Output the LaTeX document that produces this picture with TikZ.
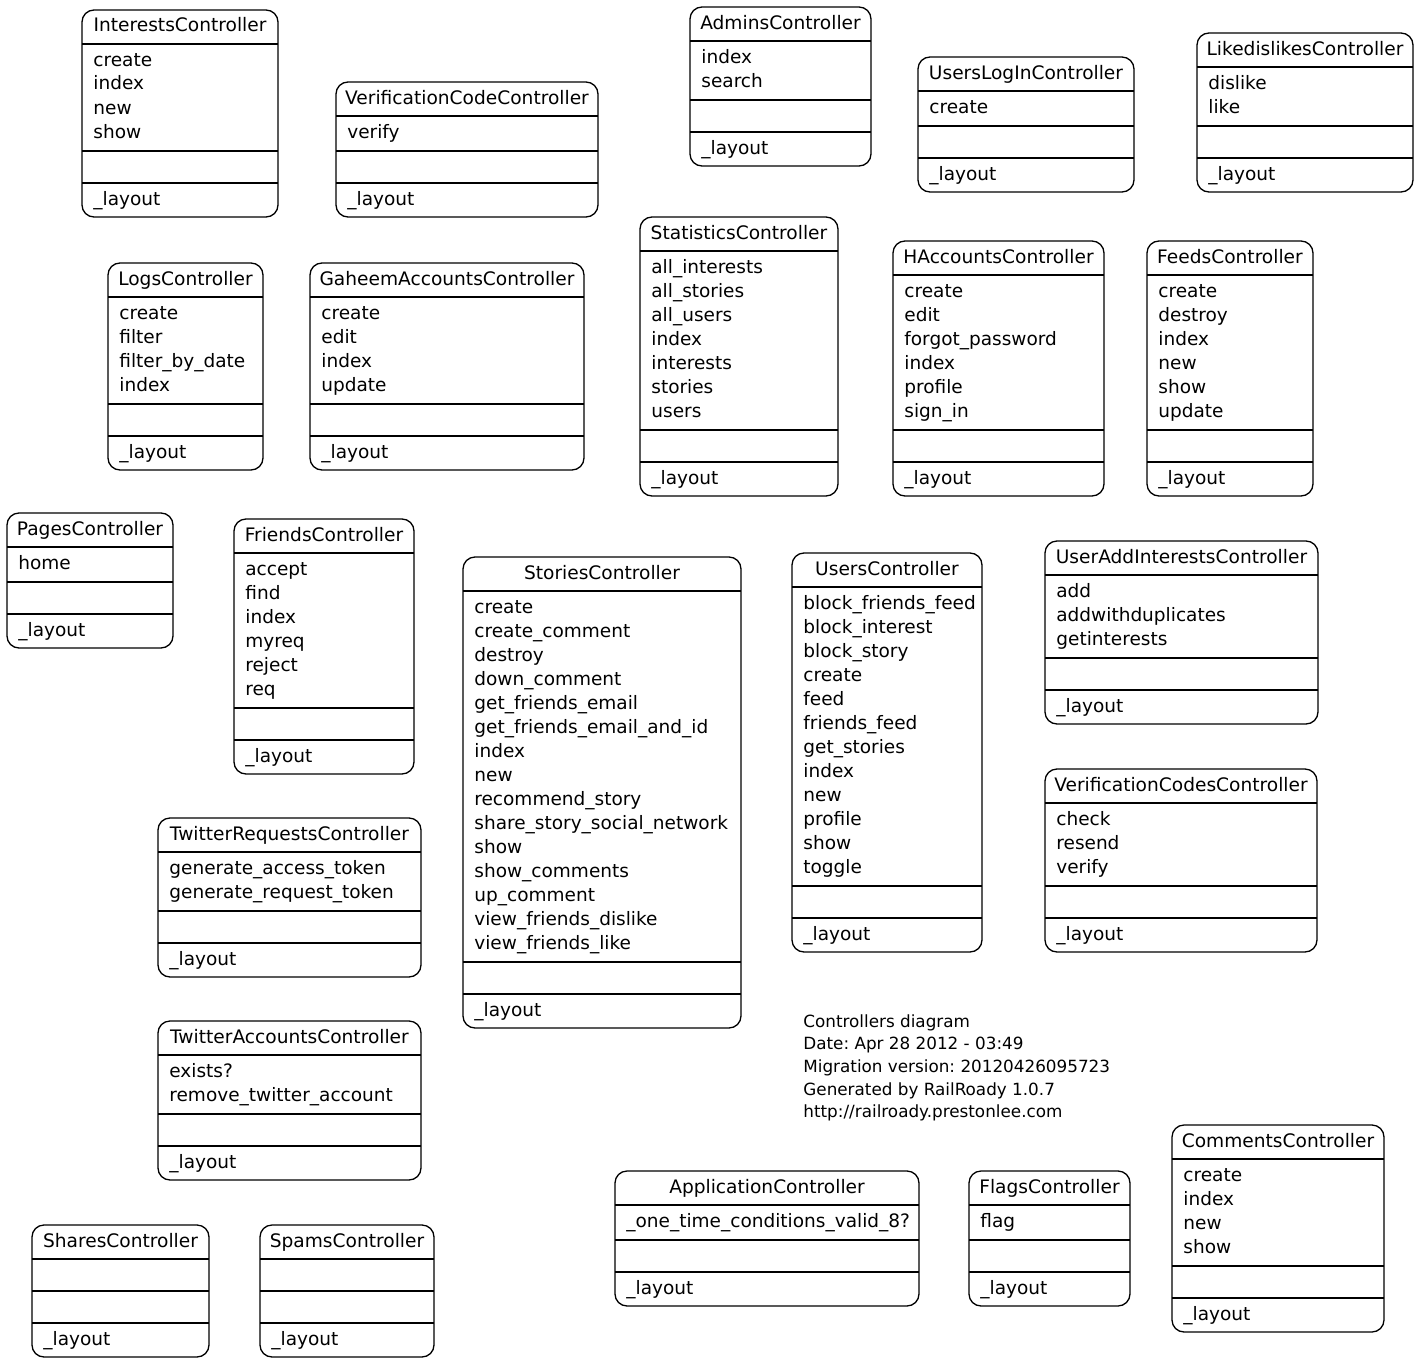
\documentclass[tikz,border=0pt]{standalone}
\usepackage{fontspec}
\setmainfont{DejaVu Sans}
\frenchspacing

\tikzset{
    ctrlframe/.style={line width=0.65pt, rounded corners=6pt},
    ctrlrule/.style={line width=0.65pt},
    ctrltitle/.style={anchor=base, inner sep=0pt, font=\fontsize{9.3}{12}\selectfont},
    ctrlmeth/.style={anchor=base west, inner sep=0pt, font=\fontsize{9.25}{12}\selectfont},
    foot/.style={anchor=base west, inner sep=0pt, font=\fontsize{8.4}{11.35}\selectfont}
}

% #1 name, #2 title, #3 left, #4 top, #5 width, #6 methods
\newcommand{\ctrlbox}[6]{%
    \pgfmathsetmacro\ctrlmid{#3+#5/2}
    \gdef\ctrlcount{0}
    \if\relax\detokenize{#6}\relax\else
        \foreach \m [count=\i] in {#6}
        {
            \node[ctrlmeth] (#1-m\i) at (#3+11, #4+56+24*\i-24) {\m};
            \xdef\ctrlcount{\i}
        }
    \fi
    \pgfmathsetmacro\ctrlya{#4+34}
    \pgfmathsetmacro\ctrlyb{\ctrlya+(\ctrlcount>0 ? 24*\ctrlcount+11 : 32)}
    \pgfmathsetmacro\ctrlyc{\ctrlyb+32}
    \pgfmathsetmacro\ctrlyd{\ctrlyc+34}
    \draw[ctrlframe] (#3,#4) rectangle (#3+#5,\ctrlyd);
    \draw[ctrlrule] (#3,\ctrlya) -- (#3+#5,\ctrlya);
    \draw[ctrlrule] (#3,\ctrlyb) -- (#3+#5,\ctrlyb);
    \draw[ctrlrule] (#3,\ctrlyc) -- (#3+#5,\ctrlyc);
    \node[ctrltitle] (#1) at (\ctrlmid, #4+22) {#2};
    \node[ctrlmeth] (#1-layout) at (#3+11, \ctrlyc+22) {\_layout};
}

\begin{document}
\begin{tikzpicture}[x=0.5pt, y=-0.5pt]
    \useasboundingbox (0,0) rectangle (1420,1365);

    % top rows
    \ctrlbox{interests}{InterestsController}{82}{10}{196}{create,index,new,show}
    \ctrlbox{verifcode}{VerificationCodeController}{336}{82}{262}{verify}
    \ctrlbox{admins}{AdminsController}{690}{7}{181}{index,search}
    \ctrlbox{userslogin}{UsersLogInController}{918}{57}{216}{create}
    \ctrlbox{likedislikes}{LikedislikesController}{1197}{33}{216}{dislike,like}
    \ctrlbox{logs}{LogsController}{108}{263}{155}{create,filter,filter\_by\_date,index}
    \ctrlbox{gaheem}{GaheemAccountsController}{310}{263}{274}{create,edit,index,update}
    \ctrlbox{statistics}{StatisticsController}{640}{217}{198}{all\_interests,all\_stories,all\_users,index,interests,stories,users}
    \ctrlbox{haccounts}{HAccountsController}{893}{241}{211}{create,edit,forgot\_password,index,profile,sign\_in}
    \ctrlbox{feeds}{FeedsController}{1147}{241}{166}{create,destroy,index,new,show,update}

    % middle
    \ctrlbox{pages}{PagesController}{7}{513}{166}{home}
    \ctrlbox{friends}{FriendsController}{234}{519}{180}{accept,find,index,myreq,reject,req}
    \ctrlbox{stories}{StoriesController}{463}{557}{278}{create,create\_comment,destroy,down\_comment,get\_friends\_email,get\_friends\_email\_and\_id,index,new,recommend\_story,share\_story\_social\_network,show,show\_comments,up\_comment,view\_friends\_dislike,view\_friends\_like}
    \ctrlbox{users}{UsersController}{792}{553}{190}{block\_friends\_feed,block\_interest,block\_story,create,feed,friends\_feed,get\_stories,index,new,profile,show,toggle}
    \ctrlbox{useradd}{UserAddInterestsController}{1045}{541}{273}{add,addwithduplicates,getinterests}
    \ctrlbox{verifcodes}{VerificationCodesController}{1045}{769}{272}{check,resend,verify}
    \ctrlbox{twreq}{TwitterRequestsController}{158}{818}{263}{generate\_access\_token,generate\_request\_token}
    \ctrlbox{twacc}{TwitterAccountsController}{158}{1021}{263}{exists?,remove\_twitter\_account}

    % bottom
    \ctrlbox{shares}{SharesController}{32}{1225}{177}{}
    \ctrlbox{spams}{SpamsController}{260}{1225}{174}{}
    \ctrlbox{application}{ApplicationController}{615}{1171}{304}{\_one\_time\_conditions\_valid\_8?}
    \ctrlbox{flags}{FlagsController}{969}{1171}{161}{flag}
    \ctrlbox{comments}{CommentsController}{1172}{1125}{212}{create,index,new,show}

    % legend
    \foreach \t [count=\k] in {Controllers diagram, Date: Apr 28 2012 - 03:49, Migration version: 20120426095723, Generated by RailRoady 1.0.7, http://railroady.prestonlee.com}
    {
        \node[foot] (foot\k) at (803, 1027+22.7*\k-22.7) {\t};
    }
\end{tikzpicture}
\end{document}
